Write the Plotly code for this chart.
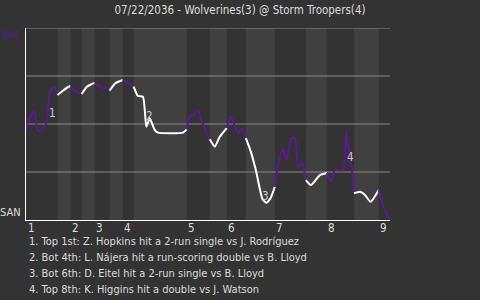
import plotly.graph_objects as go

# ---- data ----
wp_x = [0, 1.16, 2.34, 3.16, 3.91, 5.56, 6.66, 7.76, 8.67,
        10.12, 11.69, 12.24,
        13.54, 15.27,
        16.73, 18.57, 18.84,
        20.22, 21.32, 22.23, 22.97,
        24.54, 26.55,
        27.73, 29.57,
        30.76, 32.13, 33.07, 33.98, 34.44, 35.35, 36.26, 43.14, 44.15,
        44.98, 46.16, 47.26, 48.20, 49.57, 50.48,
        51.86, 53.23, 55.16,
        56.18, 57.08, 58.27, 59.48, 60.39,
        61.76, 63.14, 64.98, 66.08, 67.18, 68.36,
        69.46, 70.56, 71.58, 72.85, 73.87, 74.83, 75.93, 76.89,
        78.27, 80.74, 82.67,
        83.77, 84.87, 87.15, 87.98, 88.36, 89.46, 90.12,
        91.75, 93.12, 94.69, 96.9,
        98.16, 99.17, 100]
wp_y = [0.464, 0.538, 0.569, 0.469, 0.465, 0.500, 0.673, 0.694, 0.651,
        0.673, 0.694, 0.698,
        0.673, 0.656,
        0.694, 0.712, 0.711,
        0.698, 0.686, 0.691, 0.674,
        0.712, 0.729,
        0.715, 0.695,
        0.646, 0.642, 0.486, 0.530, 0.512, 0.469, 0.455, 0.455, 0.472,
        0.542, 0.547, 0.573, 0.521, 0.452, 0.420,
        0.382, 0.434, 0.479,
        0.542, 0.504, 0.455, 0.478, 0.426,
        0.356, 0.260, 0.108, 0.090, 0.113, 0.173,
        0.302, 0.372, 0.313, 0.427, 0.427, 0.279, 0.297, 0.208,
        0.182, 0.234, 0.245,
        0.199, 0.260, 0.260, 0.460, 0.399, 0.278, 0.139,
        0.147, 0.130, 0.095, 0.156,
        0.069, 0.031, 0.0]
half_edges = [0, 8.67, 12.24, 15.27, 18.84, 22.97, 26.55, 29.57, 44.15, 50.48,
              55.16, 60.39, 68.36, 76.89, 82.67, 90.12, 96.9, 100]
inning_labels = ["1", "2", "3", "4", "5", "6", "7", "8", "9"]
note_x = [7.37, 33.98, 65.9, 89.1]
note_y = [0.556, 0.542, 0.125, 0.33]
note_labels = ["1", "2", "3", "4"]
notes = ["1. Top 1st: Z. Hopkins hit a 2-run single vs J. Rodríguez",
         "2. Bot 4th: L. Nájera hit a run-scoring double vs B. Lloyd",
         "3. Bot 6th: D. Eitel hit a 2-run single vs B. Lloyd",
         "4. Top 8th: K. Higgins hit a double vs J. Watson"]
title = "07/22/2036 - Wolverines(3) @ Storm Troopers(4)"
away_abbr, home_abbr = "WIC", "SAN"

FONT = "DejaVu Sans Condensed, sans-serif"
BG = "#333333"
BAND = "#404040"
PURPLE = "#5b1a8e"
TXT = "#dddddd"

fig = go.Figure()
shapes = []
for i in range(len(half_edges) - 1):
    if i % 2 == 1:
        shapes.append(dict(type="rect", xref="x", yref="y", x0=half_edges[i], x1=half_edges[i + 1],
                           y0=0, y1=1, fillcolor=BAND, line=dict(width=0), layer="below"))
for g in [0.25, 0.5, 0.75, 1.0]:
    shapes.append(dict(type="line", xref="x", yref="y", x0=0, x1=100, y0=g, y1=g,
                       line=dict(color="#8a8a8a", width=1), layer="below"))

for i in range(len(half_edges) - 1):
    lo, hi = half_edges[i], half_edges[i + 1]
    xs = [x for x in wp_x if lo - 1e-9 <= x <= hi + 1e-9]
    ys = [y for x, y in zip(wp_x, wp_y) if lo - 1e-9 <= x <= hi + 1e-9]
    fig.add_trace(go.Scatter(x=xs, y=ys, mode="lines",
                             line=dict(color=PURPLE if i % 2 == 0 else "#ffffff", width=2,
                                       shape="spline", smoothing=0.5),
                             hoverinfo="skip", showlegend=False))

ann = []
for k, lab in enumerate(inning_labels):
    ann.append(dict(x=half_edges[2 * k], y=0, xref="x", yref="y", text=lab, showarrow=False,
                    xanchor="left", yanchor="top", xshift=-0.5, yshift=1,
                    font=dict(family=FONT, size=11.5, color=TXT)))
for x, y, lab in zip(note_x, note_y, note_labels):
    ann.append(dict(x=x, y=y, xref="x", yref="y", text=lab, showarrow=False,
                    font=dict(family=FONT, size=11.5, color="#cccccc")))
for k, t in enumerate(notes):
    ann.append(dict(x=0, y=0, xref="paper", yref="paper", text=t, showarrow=False,
                    xanchor="left", yanchor="middle", xshift=1, yshift=-21 - 16 * k,
                    font=dict(family=FONT, size=11, color=TXT)))
ann.append(dict(x=0, y=1, xref="paper", yref="paper", text=away_abbr, showarrow=False,
                xanchor="right", yanchor="middle", xshift=-3, yshift=-7,
                font=dict(family=FONT, size=10.5, color=PURPLE)))
ann.append(dict(x=0, y=0, xref="paper", yref="paper", text=home_abbr, showarrow=False,
                xanchor="right", yanchor="middle", xshift=-3, yshift=8,
                font=dict(family=FONT, size=11, color=TXT)))

fig.update_layout(
    width=480, height=300,
    margin=dict(l=26, r=90, t=28, b=80),
    paper_bgcolor=BG, plot_bgcolor=BG,
    shapes=shapes, annotations=ann,
    title=dict(text=title, x=0.5, xanchor="center", xref="container",
               y=1 - 9.5 / 300, yanchor="middle", yref="container",
               font=dict(family=FONT, size=11.5, color=TXT)),
    xaxis=dict(range=[0, 100], showgrid=False, zeroline=False, showticklabels=False,
               showline=True, linecolor="#ffffff", linewidth=1, ticks=""),
    yaxis=dict(range=[0, 1], showgrid=False, zeroline=False, showticklabels=False,
               showline=True, linecolor="#ffffff", linewidth=1, ticks=""),
)
fig.write_html("out.html")
